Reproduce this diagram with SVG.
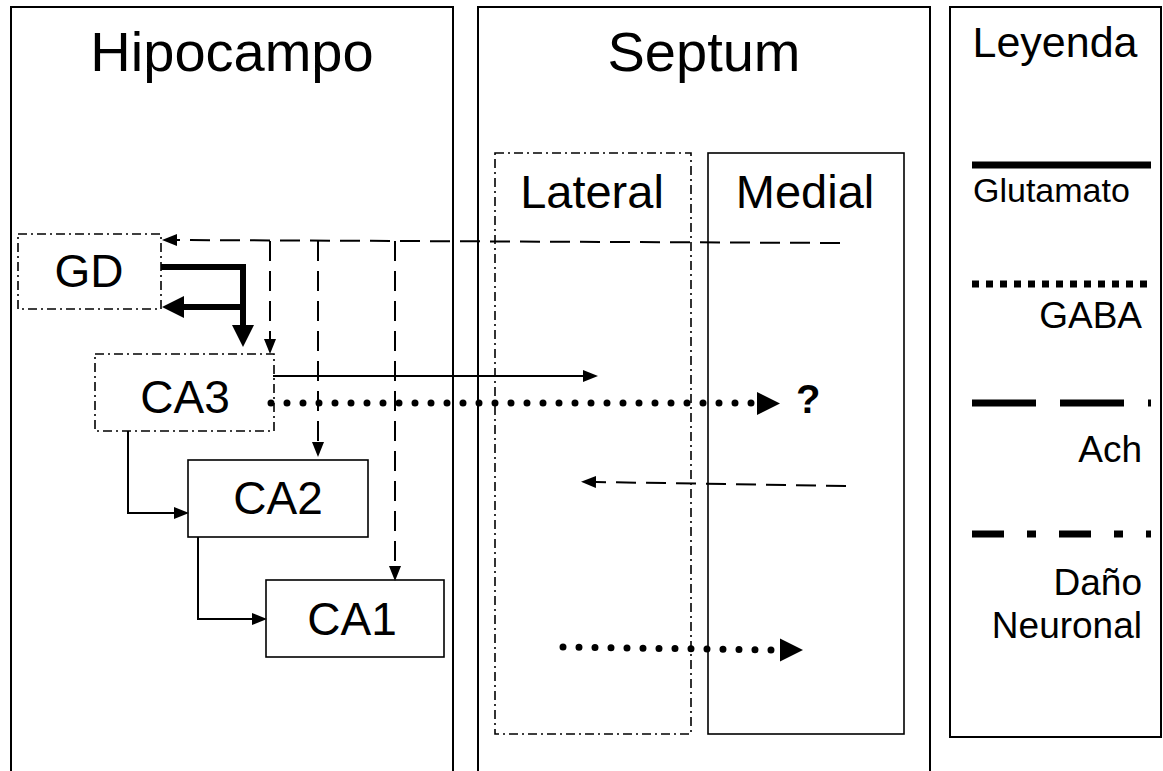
<svg xmlns="http://www.w3.org/2000/svg" width="1163" height="771" viewBox="0 0 1163 771">
  <style>
    text { font-family: "Liberation Sans", Arial, sans-serif; fill: #000; }
    .title { font-size: 56px; text-anchor: middle; }
    .sub { font-size: 47px; text-anchor: middle; }
    .node { font-size: 46px; text-anchor: middle; }
    .leg { font-size: 37px; text-anchor: end; }
    .frame { fill: none; stroke: #000; stroke-width: 2; }
    .solidbox { fill: none; stroke: #000; stroke-width: 1.6; }
    .dashdot { fill: none; stroke: #000; stroke-width: 1.6; stroke-dasharray: 9 4 2 4; }
    .glu { fill: none; stroke: #000; stroke-width: 2; }
    .glu-thick { fill: none; stroke: #000; stroke-width: 6; stroke-linejoin: miter; }
    .ach { fill: none; stroke: #000; stroke-width: 2; stroke-dasharray: 20 10; }
    .gaba { fill: none; stroke: #000; stroke-width: 7; stroke-dasharray: 0 16; stroke-linecap: round; }
    .legline { fill: none; stroke: #000; stroke-width: 7; }
  </style>
  <defs>
    <marker id="arrow" markerUnits="userSpaceOnUse" markerWidth="15" markerHeight="12" refX="0" refY="6" orient="auto">
      <path d="M0,0 L15,6 L0,12 z" fill="#000"/>
    </marker>
    <marker id="arrow-thick" markerUnits="userSpaceOnUse" markerWidth="22" markerHeight="22" refX="0" refY="11" orient="auto">
      <path d="M0,0 L22,11 L0,22 z" fill="#000"/>
    </marker>
    <marker id="arrow-gaba" markerUnits="userSpaceOnUse" markerWidth="23" markerHeight="23" refX="0" refY="11.5" orient="auto">
      <path d="M0,0 L23,11.5 L0,23 z" fill="#000"/>
    </marker>
  </defs>

  <!-- region frames -->
  <g id="hipocampo">
    <path class="frame" d="M11,775 V7 H453 V775"/>
    <text class="title" x="232" y="71">Hipocampo</text>
  </g>
  <g id="septum">
    <path class="frame" d="M478,775 V7 H930 V775"/>
    <text class="title" x="704" y="71">Septum</text>
  </g>
  <g id="lateral">
    <rect class="dashdot" x="495" y="153" width="196" height="581"/>
    <text class="sub" x="592" y="208">Lateral</text>
  </g>
  <g id="medial">
    <rect class="solidbox" x="708" y="153" width="196" height="581"/>
    <text class="sub" x="805" y="208">Medial</text>
  </g>

  <!-- hippocampal nodes -->
  <g id="gd">
    <rect class="dashdot" x="18" y="234" width="143" height="75"/>
    <text class="node" x="89" y="287">GD</text>
  </g>
  <g id="ca3">
    <rect class="dashdot" x="95" y="354" width="179" height="77"/>
    <text class="node" x="185" y="413">CA3</text>
  </g>
  <g id="ca2">
    <rect class="solidbox" x="188" y="460" width="180" height="77"/>
    <text class="node" x="278" y="514">CA2</text>
  </g>
  <g id="ca1">
    <rect class="solidbox" x="266" y="580" width="178" height="77"/>
    <text class="node" x="352" y="635">CA1</text>
  </g>

  <!-- connectors -->
  <g id="connectors">
    <path class="glu-thick" d="M161,267 H243 V325" marker-end="url(#arrow-thick)"/>
    <path class="glu-thick" d="M243,307 H184" marker-end="url(#arrow-thick)"/>
    <path class="ach" d="M840,243 L177,240" marker-end="url(#arrow)"/>
    <path class="ach" d="M270,241 V339" marker-end="url(#arrow)"/>
    <path class="ach" d="M318,241 V442" marker-end="url(#arrow)"/>
    <path class="ach" d="M395,241 V566" marker-end="url(#arrow)"/>
    <path class="glu" d="M273,376 H583" marker-end="url(#arrow)"/>
    <path class="gaba" d="M271,403 H757"/>
    <path d="M757,392 L780,403.5 L757,415 z" fill="#000"/>
    <text x="796" y="413" style="font-size:40px;font-weight:bold">?</text>
    <path class="glu" d="M128,431 V513 H174" marker-end="url(#arrow)"/>
    <path class="glu" d="M198,537 V619 H252" marker-end="url(#arrow)"/>
    <path class="ach" d="M846,486 L596,482" marker-end="url(#arrow)"/>
    <path class="gaba" d="M563,647 L772,650"/>
    <path d="M780,638.5 L803,650 L780,661.5 z" fill="#000"/>
  </g>

  <!-- legend -->
  <g id="leyenda">
    <rect class="frame" x="950" y="7" width="211" height="730"/>
    <text x="1055" y="57" style="font-size:43px;text-anchor:middle">Leyenda</text>
    <line class="legline" x1="972" y1="165" x2="1151" y2="165"/>
    <text x="973" y="202" style="font-size:34px">Glutamato</text>
    <line class="legline" x1="972" y1="284" x2="1151" y2="284" stroke-dasharray="7 7"/>
    <text class="leg" x="1142" y="328">GABA</text>
    <line class="legline" x1="972" y1="403" x2="1151" y2="403" stroke-dasharray="64 24"/>
    <text class="leg" x="1142" y="462">Ach</text>
    <line class="legline" x1="972" y1="534" x2="1151" y2="534" stroke-dasharray="32 23 9 23"/>
    <text class="leg" x="1142" y="595">Daño</text>
    <text class="leg" x="1142" y="638">Neuronal</text>
  </g>
</svg>
